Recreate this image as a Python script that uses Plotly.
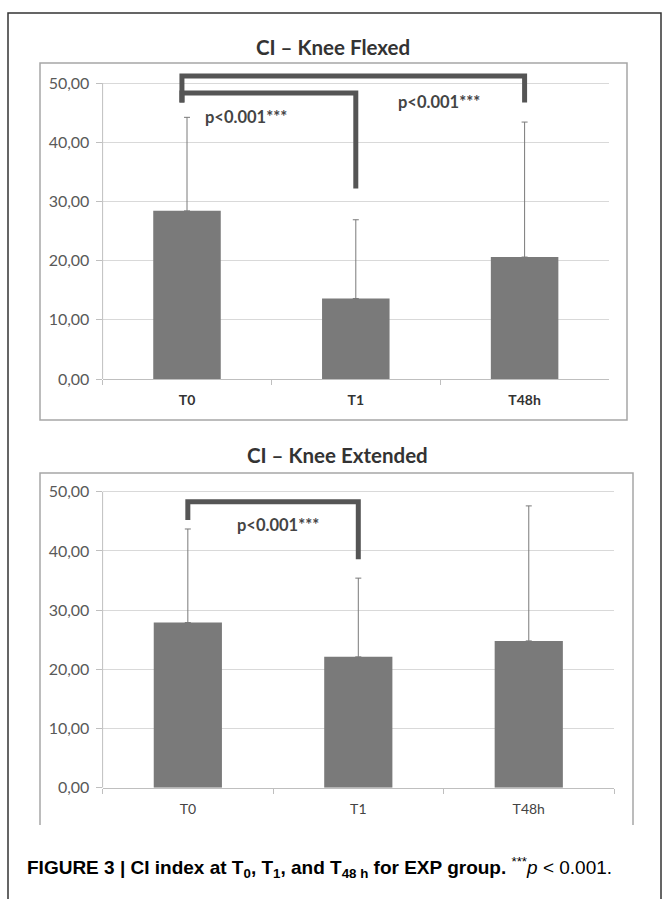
import plotly.graph_objects as go

W, H = 662, 899
categories = ["T0", "T1", "T48h"]
flexed_mean = [28.4, 13.6, 20.6]
extended_mean = [27.9, 22.1, 24.8]
# upper ends of error bars
flexed_err_top = [44.2, 26.9, 43.4]
extended_err_top = [43.7, 35.4, 47.6]
flexed_sd = [t - m for t, m in zip(flexed_err_top, flexed_mean)]
extended_sd = [t - m for t, m in zip(extended_err_top, extended_mean)]
ytick_vals = [0, 10, 20, 30, 40, 50]
ytick_text = ["0,00", "10,00", "20,00", "30,00", "40,00", "50,00"]

# significance brackets: (x_left, x_right, y_top, y_left_end, y_right_end)
flexed_brackets = [(-0.03, 1.0, 48.3, 46.7, 32.2), (-0.03, 2.0, 51.2, 46.7, 46.7)]
extended_brackets = [(0.0, 1.0, 48.3, 45.2, 38.6)]
sig_label = "p<0.001***"
flexed_labels = [(0.35, 44.2), (1.49, 46.8)]
extended_labels = [(0.53, 44.4)]


def px(x):
    return x / W


def py(y):
    return 1 - y / H


BAR = "#7a7a7a"
GRID = "#d9d9d9"
AX = "#bfbfbf"
BR = "#555555"
FONT = "Lato"

fig = go.Figure()
fig.add_trace(go.Bar(x=categories, y=flexed_mean, marker_color=BAR, marker_line_width=0,
                     error_y=dict(type="data", symmetric=False, array=flexed_sd,
                                  arrayminus=[0, 0, 0], color=BAR, thickness=1, width=3),
                     xaxis="x", yaxis="y", showlegend=False))
fig.add_trace(go.Bar(x=categories, y=extended_mean, marker_color=BAR, marker_line_width=0,
                     error_y=dict(type="data", symmetric=False, array=extended_sd,
                                  arrayminus=[0, 0, 0], color=BAR, thickness=1, width=3),
                     xaxis="x2", yaxis="y2", showlegend=False))

t_y0, t_scale = 379.0, 5.92
t_top = 53.5
b_y0 = 787.7
b_top = 53.2

common_y = dict(tickvals=ytick_vals, ticktext=ytick_text, showgrid=True, gridcolor=GRID,
                gridwidth=1, zeroline=False, showline=False, ticks="outside", ticklen=6,
                tickcolor=AX, tickfont=dict(family=FONT, size=16, color="#595959"),
                ticklabelstandoff=3, automargin=False, fixedrange=True)
common_x = dict(type="category", showline=True, linecolor=AX, linewidth=1, ticks="outside",
                tickson="boundaries", ticklen=5, tickcolor=AX, showgrid=False,
                ticklabelstandoff=8, automargin=False, range=[-0.5, 2.5], fixedrange=True)

fig.update_layout(
    width=W, height=H, margin=dict(l=0, r=0, t=0, b=0), template="none",
    paper_bgcolor="white", plot_bgcolor="white", bargap=0.6,
    xaxis=dict(domain=[px(102.6), px(609)], anchor="y",
               tickfont=dict(family=FONT, size=14, color="#333333", weight="bold"), **common_x),
    yaxis=dict(domain=[py(t_y0), py(t_y0 - t_top * t_scale)], range=[0, t_top], anchor="x",
               **common_y),
    xaxis2=dict(domain=[px(102.6), px(614)], anchor="y2",
                tickfont=dict(family=FONT, size=14, color="#444444"), **common_x),
    yaxis2=dict(domain=[py(b_y0), py(b_y0 - b_top * t_scale)], range=[0, b_top], anchor="x2",
                **common_y),
)

shapes = []
for xr, yr in (("x", "y"), ("x2", "y2")):
    shapes.append(dict(type="line", xref=xr + " domain", yref=yr, x0=0, x1=0, y0=0, y1=50,
                       line=dict(color=AX, width=1)))
for xr, yr, brs in (("x", "y", flexed_brackets), ("x2", "y2", extended_brackets)):
    for xl, xrt, yt, yl, yrr in brs:
        shapes.append(dict(type="path", xref=xr, yref=yr,
                           path=f"M {xl},{yl} L {xl},{yt} L {xrt},{yt} L {xrt},{yrr}",
                           line=dict(color=BR, width=5)))
shapes.append(dict(type="rect", xref="paper", yref="paper", x0=px(40), x1=px(627),
                   y0=py(420), y1=py(63), line=dict(color="#a6a6a6", width=1.5)))
shapes.append(dict(type="path", xref="paper", yref="paper",
                   path=f"M {px(40)},{py(825)} L {px(40)},{py(473)} L {px(633)},{py(473)} L {px(633)},{py(825)}",
                   line=dict(color="#a6a6a6", width=1.5)))
shapes.append(dict(type="path", xref="paper", yref="paper",
                   path=f"M {px(8)},{py(905)} L {px(8)},{py(13)} L {px(661)},{py(13)} L {px(661)},{py(905)}",
                   line=dict(color="#333333", width=1.5)))
fig.update_layout(shapes=shapes)

ann = []
ann.append(dict(text="<b>CI – Knee Flexed</b>", xref="paper", yref="paper", x=px(333), y=py(47),
                xanchor="center", yanchor="middle",
                showarrow=False, font=dict(family=FONT, size=20.5, color="#333333")))
ann.append(dict(text="<b>CI – Knee Extended</b>", xref="paper", yref="paper", x=px(337), y=py(455),
                xanchor="center", yanchor="middle",
                showarrow=False, font=dict(family=FONT, size=20.5, color="#333333")))
for xr, yr, labs in (("x", "y", flexed_labels), ("x2", "y2", extended_labels)):
    for lx, ly in labs:
        ann.append(dict(text=f"<b>{sig_label}</b>", xref=xr, yref=yr, x=lx, y=ly, showarrow=False,
                        xanchor="center", yanchor="middle",
                        font=dict(family=FONT, size=16.5, color="#444444")))
ann.append(dict(text="<b>FIGURE 3 | CI index at T<sub>0</sub>, T<sub>1</sub>, and T<sub>48 h</sub> for EXP group.</b> "
                     "<sup>***</sup><i>p</i> &lt; 0.001.",
                xref="paper", yref="paper", x=px(25), y=py(867), xanchor="left", yanchor="middle",
                showarrow=False,
                font=dict(family="Liberation Sans", size=19, color="#000000")))
fig.update_layout(annotations=ann)

fig.write_html("out.html", config={"displayModeBar": False},
               post_script="document.body.style.margin='0';")
